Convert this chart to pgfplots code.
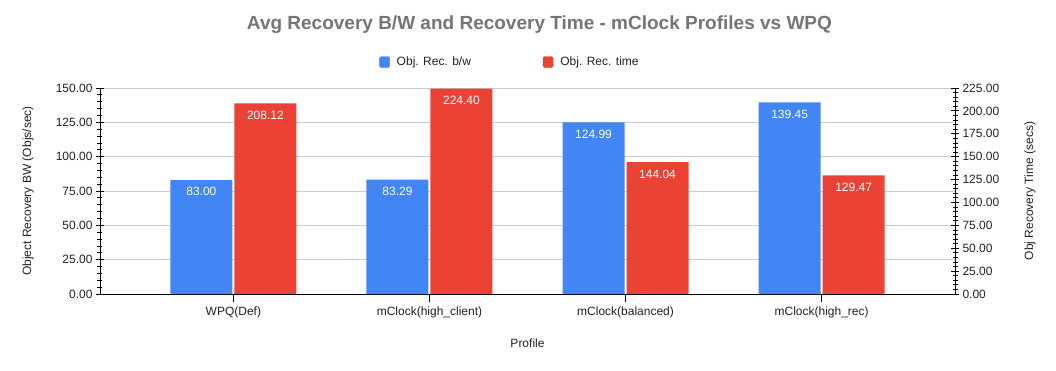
\documentclass[border=0pt]{standalone}
\usepackage{pgfplots}
\pgfplotsset{compat=1.18}
\usepackage{fontspec}
\setmainfont{Liberation Sans}
\definecolor{cblue}{HTML}{4285F4}
\definecolor{cred}{HTML}{EA4335}
\definecolor{ctitle}{HTML}{757575}
\definecolor{ctext}{HTML}{222222}
\definecolor{cgrid}{HTML}{CCCCCC}
\newcommand{\fs}[1]{\fontsize{#1bp}{#1bp}\selectfont}

\begin{document}
\begin{tikzpicture}
\useasboundingbox (-100bp,-77bp) rectangle (956bp,294bp);
\pgfplotsset{
  common/.style={
    scale only axis, width=855bp, height=206bp, at={(0,0)}, anchor=south west,
    xmin=-0.68, xmax=3.68, ymin=0,
    ybar, bar width=62bp,
    xtick={0,1,2,3},
    tick label style={font=\fs{12}, text=ctext},
    label style={font=\fs{12}, text=ctext},
    /pgf/number format/fixed, /pgf/number format/fixed zerofill,
    /pgf/number format/precision=2, /pgf/number format/assume math mode=true,
    minor y tick num=4,
    major tick length=8bp, minor tick length=5bp, tick align=center,
    every tick/.style={black, line width=0.8bp},
    axis line style={black, line width=0.9bp},
    nodes near coords,
    nodes near coords style={font=\fs{12}, text=white, anchor=north, yshift=-4bp},
    every axis y label/.style={at={(axis description cs:-0.0842,0.5)}, anchor=center, rotate=90, font=\fs{12}, text=ctext},
  }
}
\begin{axis}[common,
  ymax=150, ytick={0,25,...,150},
  axis y line*=left, axis x line*=bottom,
  ymajorgrids, major grid style={cgrid, line width=0.8bp},
  xticklabels={WPQ(Def),mClock(high\_client),mClock(balanced),mClock(high\_rec)},
  xtick style={yshift=-4bp},
  xticklabel style={yshift=-5bp},
  xlabel={Profile},
  xlabel style={at={(axis description cs:0.5,-0.238)}, anchor=center},
  ylabel={Object Recovery BW (Objs/sec)},
  title={\bfseries Avg Recovery B/W and Recovery Time - mClock Profiles vs WPQ},
  title style={font=\fs{19}, text=ctitle, at={(axis description cs:0.514,1.2767)}, anchor=center},
  legend style={at={(axis description cs:0.4795,1.126)}, anchor=center, draw=none,
    font=\fs{12}, text=ctext,
    /tikz/every odd column/.append style={column sep=5bp},
    /tikz/every even column/.append style={column sep=70bp}},
  legend columns=2,
]
\addplot[fill=cblue, draw=none, bar shift=-32bp, forget plot] coordinates {(0,83.00) (1,83.29) (2,124.99) (3,139.45)};
\addlegendimage{legend image code/.code={\fill[cblue, rounded corners=1.5bp] (0bp,-5.5bp) rectangle (10bp,5.5bp);}}
\addlegendentry{Obj. Rec. b/w}
\addlegendimage{legend image code/.code={\fill[cred, rounded corners=1.5bp] (0bp,-5.5bp) rectangle (10bp,5.5bp);}}
\addlegendentry{Obj. Rec. time}
\end{axis}
\begin{axis}[common,
  ymax=225, ytick={0,25,...,225},
  axis y line*=right, axis x line=none,
  ylabel={Obj Recovery Time (secs)},
  every axis y label/.style={at={(axis description cs:1.0877,0.5)}, anchor=center, rotate=90, font=\fs{12}, text=ctext},
]
\addplot[fill=cred, draw=none, bar shift=32bp] coordinates {(0,208.12) (1,224.40) (2,144.04) (3,129.47)};
\end{axis}
\end{tikzpicture}
\end{document}
